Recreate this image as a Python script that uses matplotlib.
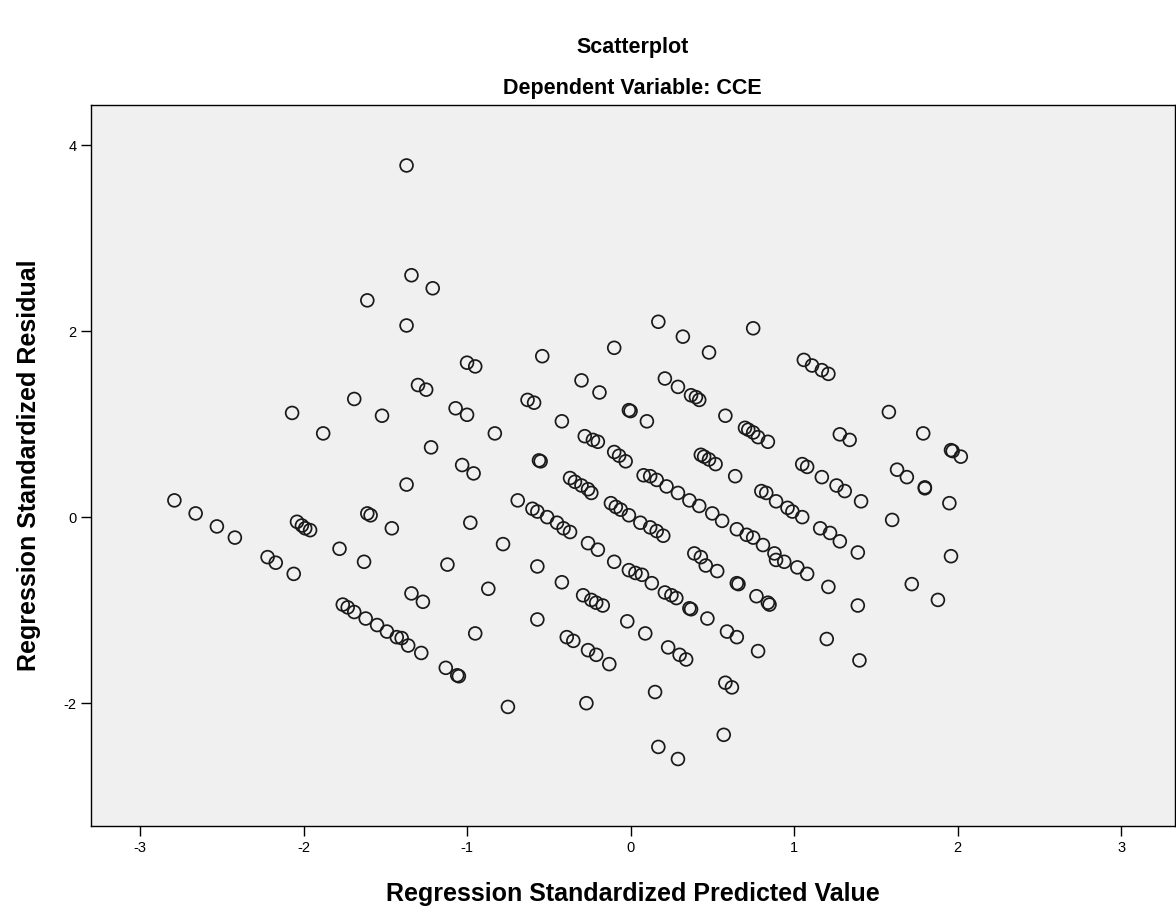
import matplotlib.pyplot as plt

# Regression standardized predicted value (x) and standardized residual (y)
pred = [
    -1.37, -1.34, -1.21, -1.61, -1.37, 0.17, 0.32, 0.48, 0.75, -0.10, -0.54, -1.00, -0.95,
    1.06, 1.11, 1.17, 1.21,
    -2.07, -1.88, -1.69, -1.52, -1.37, -2.79, -2.66, -2.53, -2.42, -2.04, -2.01, -1.99, -1.96,
    -1.61, -1.59, -1.46, -1.78, -2.22, -2.17, -2.06, -1.63,
    -1.76, -1.73, -1.69, -1.62, -1.55, -1.49, -1.43, -1.40, -1.36, -1.28, -1.13, -1.06, -1.05,
    -1.30, -1.25, -0.30, -0.19, -0.63, -0.59, -0.01, 0.00, -1.07, -1.00, -0.42, -0.83, -1.22,
    -0.28, -0.23, -0.20, -0.10, -0.07, -0.03, -0.56, -0.55, -1.03, -0.96,
    -0.37, -0.34, -0.30, -0.26, -0.24, -0.69, -0.60, -0.57, -0.51, -0.45, -0.41, -0.37,
    -0.12, -0.09, -0.06, -0.01, 0.06, -0.98, -0.78, -0.26, -0.20,
    0.21, 0.29, 0.37, 0.40, 0.42, 0.10, 0.58, 0.70, 0.72, 0.75, 0.78, 0.84, 1.28, 1.34,
    0.43, 0.45, 0.48, 0.52, 0.64, 1.05, 1.08, 1.17, 1.26, 1.31, 1.41,
    0.08, 0.12, 0.16, 0.22, 0.29, 0.36, 0.42, 0.50, 0.56, 0.65, 0.71, 0.75, 0.81, 0.88,
    0.80, 0.83, 0.89, 0.96, 0.99, 1.05, 1.16, 1.22, 1.28, 1.39,
    0.12, 0.16, 0.20, 0.39, 0.43,
    1.58, 1.79, 1.96, 1.97, 2.02, 1.63, 1.69, 1.80, 1.80, 1.95, 1.60, 1.96,
    -1.12, -0.57, -0.10, -0.01, 0.03, 0.07, -1.34, -1.27, -0.87, -0.42,
    -0.29, -0.24, -0.21, -0.17, -0.02, -0.57, -0.95, -0.39, -0.35, -0.26, -0.21, -0.13,
    -0.75, -0.27,
    0.46, 0.53, 0.13, 0.21, 0.25, 0.28, 0.36, 0.37, 0.47, 0.65, 0.66, 0.77, 0.84, 0.85,
    0.89, 0.94, 1.02, 1.08, 1.21, 1.39, 0.09, 0.23, 0.30, 0.34, 0.59, 0.65, 0.78, 1.20, 1.40,
    0.15, 0.58, 0.62, 0.57, 0.17, 0.29,
    1.72, 1.88,
]
resid = [
    3.78, 2.60, 2.46, 2.33, 2.06, 2.10, 1.94, 1.77, 2.03, 1.82, 1.73, 1.66, 1.62,
    1.69, 1.63, 1.58, 1.54,
    1.12, 0.90, 1.27, 1.09, 0.35, 0.18, 0.04, -0.10, -0.22, -0.05, -0.09, -0.12, -0.14,
    0.04, 0.02, -0.12, -0.34, -0.43, -0.49, -0.61, -0.48,
    -0.94, -0.97, -1.02, -1.09, -1.16, -1.23, -1.29, -1.30, -1.38, -1.46, -1.62, -1.70, -1.71,
    1.42, 1.37, 1.47, 1.34, 1.26, 1.23, 1.15, 1.14, 1.17, 1.10, 1.03, 0.90, 0.75,
    0.87, 0.83, 0.81, 0.70, 0.66, 0.60, 0.61, 0.60, 0.56, 0.47,
    0.42, 0.38, 0.34, 0.30, 0.26, 0.18, 0.09, 0.06, 0.00, -0.06, -0.12, -0.16,
    0.15, 0.11, 0.08, 0.02, -0.06, -0.06, -0.29, -0.28, -0.35,
    1.49, 1.40, 1.31, 1.29, 1.26, 1.03, 1.09, 0.96, 0.94, 0.91, 0.86, 0.81, 0.89, 0.83,
    0.67, 0.65, 0.62, 0.57, 0.44, 0.57, 0.54, 0.43, 0.34, 0.28, 0.17,
    0.45, 0.44, 0.40, 0.33, 0.26, 0.18, 0.12, 0.04, -0.04, -0.13, -0.19, -0.22, -0.30, -0.39,
    0.28, 0.26, 0.17, 0.10, 0.06, 0.00, -0.12, -0.17, -0.26, -0.38,
    -0.11, -0.15, -0.20, -0.39, -0.43,
    1.13, 0.90, 0.72, 0.71, 0.65, 0.51, 0.43, 0.32, 0.31, 0.15, -0.03, -0.42,
    -0.51, -0.53, -0.48, -0.57, -0.60, -0.62, -0.82, -0.91, -0.77, -0.70,
    -0.84, -0.89, -0.92, -0.95, -1.12, -1.10, -1.25, -1.29, -1.33, -1.43, -1.48, -1.58,
    -2.04, -2.00,
    -0.52, -0.58, -0.71, -0.81, -0.84, -0.87, -0.98, -0.99, -1.09, -0.71, -0.72, -0.85, -0.92, -0.94,
    -0.46, -0.48, -0.54, -0.61, -0.75, -0.95, -1.25, -1.40, -1.48, -1.53, -1.23, -1.29, -1.44, -1.31, -1.54,
    -1.88, -1.78, -1.83, -2.34, -2.47, -2.60,
    -0.72, -0.89,
]

x_ticks = [-3, -2, -1, 0, 1, 2, 3]
y_ticks = [-2, 0, 2, 4]

plt.rcParams["font.family"] = ["Liberation Sans", "DejaVu Sans"]
plt.rcParams["axes.unicode_minus"] = False

fig = plt.figure(figsize=(11.76, 9.19), dpi=100)
ax = fig.add_axes([91 / 1176, 93 / 919, 1084 / 1176, 721 / 919])
ax.set_facecolor("#f0f0f0")

ax.scatter(
    pred,
    resid,
    s=85,
    facecolors="none",
    edgecolors="#1a1a1a",
    linewidths=1.25,
)

ax.set_xlim(-3.30, 3.33)
ax.set_ylim(-3.32, 4.43)
ax.set_xticks(x_ticks)
ax.set_yticks(y_ticks)
ax.tick_params(direction="out", length=7, width=1, labelsize=10.5, colors="black")
for side in ["left", "bottom", "top", "right"]:
    ax.spines[side].set_linewidth(1)
ax.tick_params(top=False, right=False)

ax.set_xlabel("Regression Standardized Predicted Value", fontsize=18, fontweight="bold", labelpad=20)
ax.set_ylabel("Regression Standardized Residual", fontsize=18, fontweight="bold", labelpad=16)

fig.text(0.538, 0.948, "Scatterplot", ha="center", va="center", fontsize=15.5, fontweight="bold")
fig.text(0.538, 0.904, "Dependent Variable: CCE", ha="center", va="center", fontsize=15.5, fontweight="bold")

plt.savefig("out.png", dpi=100)
